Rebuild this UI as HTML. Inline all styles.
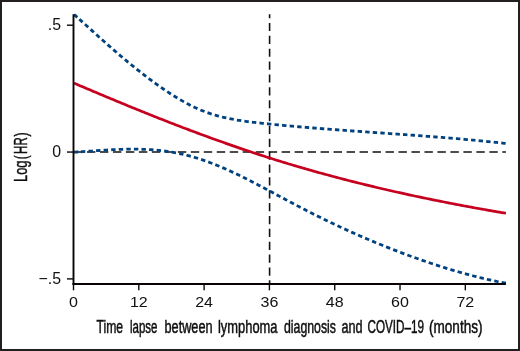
<!DOCTYPE html>
<html><head><meta charset="utf-8"><style>
html,body{margin:0;padding:0;background:#fff;}
svg{display:block;}
text{font-family:"Liberation Sans",sans-serif;}
.t{filter:grayscale(1);}
</style></head><body>
<svg width="520" height="351" viewBox="0 0 520 351">
<rect x="0" y="0" width="520" height="351" fill="#fff"/>
<rect x="1" y="1" width="518" height="349" fill="none" stroke="#231f20" stroke-width="2"/>
<g stroke="#141011" stroke-width="1.6" fill="none">
<line x1="74" y1="152.05" x2="505.9" y2="152.05" stroke-dasharray="8.4 4.58" />
<line x1="269.6" y1="14.2" x2="269.6" y2="284" stroke-dasharray="8.2 4.67" stroke-dashoffset="4.16" />
</g>
<g fill="none" stroke-linejoin="round">
<path d="M74.00,14.45 L75.10,15.42 L76.19,16.40 L77.29,17.38M79.31,19.19 L80.41,20.17 L81.50,21.15 L82.59,22.13M84.98,24.28 L86.07,25.26 L87.15,26.24 L88.24,27.22M90.63,29.38 L91.71,30.36 L92.80,31.34 L93.89,32.32M96.28,34.47 L97.37,35.46 L98.46,36.44 L99.55,37.42M101.93,39.56 L103.03,40.54 L104.12,41.51 L105.22,42.49M107.61,44.62 L108.71,45.59 L109.81,46.56 L110.92,47.53M113.33,49.64 L114.43,50.60 L115.54,51.56 L116.65,52.52M119.08,54.61 L120.20,55.56 L121.32,56.51 L122.44,57.45M124.89,59.51 L126.02,60.45 L127.14,61.39 L128.27,62.32M130.75,64.35 L131.89,65.28 L133.02,66.20 L134.17,67.13M136.66,69.12 L137.81,70.04 L138.96,70.95 L140.12,71.85M142.64,73.82 L143.80,74.71 L144.96,75.61 L146.13,76.50M148.68,78.42 L149.85,79.30 L151.03,80.18 L152.21,81.05M154.79,82.94 L155.98,83.80 L157.17,84.66 L158.36,85.51M160.97,87.35 L162.18,88.18 L163.38,89.02 L164.60,89.84M167.25,91.62 L168.47,92.43 L169.70,93.23 L170.93,94.03M173.62,95.74 L174.87,96.52 L176.12,97.28 L177.37,98.04M180.12,99.67 L181.39,100.40 L182.66,101.13 L183.94,101.85M186.74,103.37 L188.04,104.06 L189.34,104.74 L190.65,105.40M193.51,106.81 L194.84,107.44 L196.17,108.05 L197.50,108.66M200.43,109.92 L201.79,110.48 L203.15,111.03 L204.51,111.56M207.50,112.66 L208.89,113.15 L210.28,113.62 L211.67,114.07M214.72,115.01 L216.13,115.42 L217.54,115.82 L218.95,116.21M222.04,117.00 L223.46,117.34 L224.89,117.67 L226.32,117.99M229.44,118.65 L230.88,118.94 L232.32,119.21 L233.76,119.48M236.90,120.02 L238.35,120.26 L239.80,120.49 L241.25,120.71M244.40,121.16 L245.85,121.36 L247.31,121.55 L248.76,121.74M251.92,122.12 L253.38,122.30 L254.83,122.46 L256.29,122.63M259.46,122.97 L260.91,123.13 L262.37,123.28 L263.83,123.44M267.00,123.76 L268.46,123.91 L269.91,124.06 L271.37,124.21M274.54,124.52 L276.00,124.67 L277.46,124.81 L278.92,124.95M282.09,125.25 L283.55,125.39 L285.01,125.52 L286.47,125.66M289.64,125.95 L291.10,126.08 L292.56,126.21 L294.02,126.34M297.19,126.62 L298.65,126.75 L300.11,126.88 L301.57,127.00M304.74,127.27 L306.20,127.39 L307.66,127.51 L309.12,127.64M312.29,127.90 L313.76,128.01 L315.22,128.13 L316.68,128.25M319.85,128.50 L321.31,128.62 L322.78,128.73 L324.24,128.85M327.41,129.09 L328.87,129.20 L330.33,129.31 L331.80,129.42M334.97,129.66 L336.43,129.77 L337.89,129.88 L339.35,129.99M342.53,130.22 L343.99,130.33 L345.45,130.44 L346.91,130.54M350.09,130.77 L351.55,130.88 L353.01,130.98 L354.47,131.09M357.65,131.31 L359.11,131.42 L360.57,131.52 L362.04,131.62M365.21,131.85 L366.67,131.95 L368.13,132.05 L369.60,132.16M372.77,132.38 L374.23,132.48 L375.70,132.58 L377.16,132.69M380.33,132.91 L381.80,133.01 L383.26,133.11 L384.72,133.21M387.89,133.44 L389.36,133.54 L390.82,133.64 L392.28,133.75M395.46,133.97 L396.92,134.07 L398.38,134.18 L399.85,134.28M403.02,134.51 L404.48,134.61 L405.95,134.72 L407.41,134.82M410.58,135.05 L412.04,135.16 L413.51,135.26 L414.97,135.37M418.14,135.60 L419.61,135.71 L421.07,135.82 L422.53,135.93M425.71,136.17 L427.17,136.28 L428.63,136.39 L430.09,136.50M433.27,136.75 L434.73,136.86 L436.19,136.98 L437.65,137.09M440.83,137.35 L442.29,137.46 L443.75,137.58 L445.21,137.70M448.39,137.96 L449.85,138.08 L451.31,138.20 L452.77,138.33M455.94,138.60 L457.41,138.72 L458.87,138.85 L460.33,138.98M463.50,139.25 L464.96,139.38 L466.42,139.52 L467.88,139.65M471.06,139.94 L472.52,140.07 L473.98,140.21 L475.44,140.35M478.61,140.65 L480.07,140.79 L481.53,140.93 L482.99,141.08M486.16,141.39 L487.62,141.54 L489.08,141.69 L490.54,141.84M493.71,142.16 L495.17,142.32 L496.63,142.47 L498.09,142.63M501.26,142.97 L502.72,143.13 L504.17,143.29 L505.63,143.46" stroke="#00427f" stroke-width="2.8"/>
<path d="M74.00,152.18 L75.46,152.10 L76.93,152.01 L78.39,151.92M80.93,151.76 L82.39,151.66 L83.86,151.57 L85.32,151.47M88.49,151.25 L89.95,151.15 L91.42,151.04 L92.88,150.94M96.05,150.72 L97.51,150.62 L98.98,150.52 L100.44,150.42M103.61,150.21 L105.08,150.12 L106.54,150.03 L108.00,149.94M111.18,149.76 L112.64,149.68 L114.11,149.61 L115.57,149.54M118.75,149.40 L120.22,149.34 L121.68,149.29 L123.15,149.25M126.33,149.17 L127.80,149.14 L129.26,149.12 L130.73,149.11M133.91,149.10 L135.38,149.11 L136.85,149.13 L138.31,149.15M141.49,149.23 L142.96,149.28 L144.43,149.34 L145.89,149.40M149.07,149.58 L150.53,149.67 L152.00,149.77 L153.46,149.88M156.63,150.15 L158.09,150.29 L159.55,150.44 L161.01,150.60M164.17,150.99 L165.63,151.18 L167.08,151.38 L168.53,151.59M171.68,152.09 L173.12,152.33 L174.57,152.59 L176.01,152.86M179.14,153.48 L180.57,153.78 L182.00,154.09 L183.43,154.42M186.53,155.16 L187.96,155.52 L189.37,155.89 L190.79,156.28M193.86,157.15 L195.26,157.56 L196.66,157.99 L198.06,158.43M201.10,159.42 L202.49,159.88 L203.87,160.36 L205.26,160.85M208.26,161.93 L209.63,162.44 L211.00,162.96 L212.37,163.49M215.34,164.66 L216.70,165.21 L218.05,165.76 L219.41,166.33M222.34,167.57 L223.69,168.15 L225.03,168.74 L226.37,169.33M229.28,170.64 L230.62,171.25 L231.95,171.86 L233.28,172.48M236.16,173.84 L237.49,174.48 L238.81,175.11 L240.13,175.75M242.99,177.16 L244.30,177.81 L245.62,178.46 L246.93,179.12M249.77,180.56 L251.08,181.23 L252.38,181.90 L253.69,182.57M256.52,184.04 L257.82,184.72 L259.12,185.40 L260.42,186.08M263.24,187.57 L264.53,188.25 L265.83,188.94 L267.12,189.63M269.93,191.13 L271.23,191.82 L272.52,192.52 L273.81,193.21M276.62,194.72 L277.91,195.41 L279.20,196.11 L280.50,196.80M283.30,198.31 L284.60,199.00 L285.89,199.70 L287.18,200.39M289.99,201.89 L291.29,202.58 L292.58,203.27 L293.88,203.95M296.70,205.44 L298.00,206.12 L299.30,206.80 L300.60,207.48M303.42,208.95 L304.73,209.62 L306.03,210.29 L307.34,210.96M310.18,212.41 L311.49,213.07 L312.80,213.73 L314.11,214.39M316.96,215.81 L318.27,216.47 L319.58,217.12 L320.90,217.76M323.76,219.16 L325.08,219.81 L326.40,220.45 L327.72,221.08M330.59,222.46 L331.91,223.09 L333.24,223.72 L334.57,224.35M337.45,225.70 L338.78,226.32 L340.11,226.94 L341.44,227.56M344.33,228.89 L345.66,229.50 L347.00,230.11 L348.33,230.71M351.23,232.02 L352.57,232.62 L353.91,233.22 L355.25,233.81M358.16,235.09 L359.51,235.68 L360.85,236.27 L362.20,236.85M365.12,238.11 L366.47,238.69 L367.82,239.26 L369.17,239.83M372.10,241.07 L373.45,241.63 L374.80,242.20 L376.16,242.76M379.10,243.97 L380.46,244.52 L381.82,245.07 L383.18,245.62M386.12,246.81 L387.49,247.35 L388.85,247.89 L390.22,248.43M393.17,249.59 L394.54,250.12 L395.91,250.65 L397.28,251.17M400.24,252.30 L401.62,252.82 L402.99,253.34 L404.36,253.85M407.34,254.96 L408.71,255.47 L410.09,255.97 L411.47,256.48M414.45,257.56 L415.83,258.05 L417.21,258.54 L418.59,259.04M421.59,260.09 L422.97,260.57 L424.36,261.05 L425.74,261.53M428.75,262.55 L430.14,263.02 L431.53,263.48 L432.92,263.95M435.93,264.94 L437.32,265.39 L438.72,265.84 L440.11,266.29M443.13,267.25 L444.53,267.69 L445.93,268.12 L447.33,268.56M450.36,269.48 L451.77,269.90 L453.17,270.32 L454.58,270.74M457.62,271.62 L459.03,272.03 L460.44,272.43 L461.85,272.83M464.90,273.68 L466.31,274.07 L467.73,274.45 L469.14,274.83M472.20,275.64 L473.62,276.00 L475.04,276.37 L476.46,276.73M479.53,277.49 L480.95,277.84 L482.38,278.19 L483.80,278.53M486.88,279.25 L488.31,279.58 L489.74,279.90 L491.17,280.22M494.25,280.89 L495.69,281.20 L497.12,281.50 L498.56,281.80M501.65,282.42 L503.07,282.70 L504.48,282.97 L505.90,283.24" stroke="#00427f" stroke-width="2.8"/>
<path d="M74.0,83.12 L76.2,84.05 L78.3,84.98 L80.5,85.90 L82.7,86.83 L84.9,87.75 L87.0,88.67 L89.2,89.59 L91.4,90.51 L93.5,91.43 L95.7,92.34 L97.9,93.26 L100.0,94.17 L102.2,95.08 L104.4,95.99 L106.6,96.90 L108.7,97.81 L110.9,98.71 L113.1,99.62 L115.2,100.52 L117.4,101.42 L119.6,102.32 L121.7,103.21 L123.9,104.11 L126.1,105.00 L128.3,105.89 L130.4,106.78 L132.6,107.67 L134.8,108.55 L136.9,109.43 L139.1,110.31 L141.3,111.19 L143.5,112.07 L145.6,112.94 L147.8,113.81 L150.0,114.68 L152.1,115.55 L154.3,116.41 L156.5,117.27 L158.6,118.13 L160.8,118.99 L163.0,119.84 L165.2,120.69 L167.3,121.54 L169.5,122.39 L171.7,123.23 L173.8,124.07 L176.0,124.91 L178.2,125.75 L180.3,126.58 L182.5,127.41 L184.7,128.24 L186.9,129.06 L189.0,129.88 L191.2,130.70 L193.4,131.52 L195.5,132.33 L197.7,133.14 L199.9,133.95 L202.1,134.75 L204.2,135.55 L206.4,136.34 L208.6,137.14 L210.7,137.93 L212.9,138.71 L215.1,139.50 L217.2,140.28 L219.4,141.05 L221.6,141.83 L223.8,142.60 L225.9,143.36 L228.1,144.12 L230.3,144.88 L232.4,145.64 L234.6,146.39 L236.8,147.14 L238.9,147.88 L241.1,148.62 L243.3,149.36 L245.5,150.09 L247.6,150.82 L249.8,151.55 L252.0,152.27 L254.1,152.98 L256.3,153.70 L258.5,154.40 L260.7,155.11 L262.8,155.81 L265.0,156.51 L267.2,157.20 L269.3,157.89 L271.5,158.57 L273.7,159.25 L275.8,159.93 L278.0,160.61 L280.2,161.28 L282.4,161.94 L284.5,162.60 L286.7,163.26 L288.9,163.92 L291.0,164.57 L293.2,165.21 L295.4,165.86 L297.5,166.49 L299.7,167.13 L301.9,167.76 L304.1,168.39 L306.2,169.02 L308.4,169.64 L310.6,170.25 L312.7,170.87 L314.9,171.48 L317.1,172.09 L319.2,172.69 L321.4,173.29 L323.6,173.88 L325.8,174.48 L327.9,175.07 L330.1,175.65 L332.3,176.23 L334.4,176.81 L336.6,177.39 L338.8,177.96 L341.0,178.53 L343.1,179.10 L345.3,179.66 L347.5,180.22 L349.6,180.77 L351.8,181.32 L354.0,181.87 L356.1,182.42 L358.3,182.96 L360.5,183.50 L362.7,184.04 L364.8,184.57 L367.0,185.10 L369.2,185.63 L371.3,186.15 L373.5,186.67 L375.7,187.19 L377.8,187.70 L380.0,188.22 L382.2,188.72 L384.4,189.23 L386.5,189.73 L388.7,190.23 L390.9,190.73 L393.0,191.22 L395.2,191.71 L397.4,192.20 L399.6,192.68 L401.7,193.17 L403.9,193.65 L406.1,194.12 L408.2,194.60 L410.4,195.07 L412.6,195.53 L414.7,196.00 L416.9,196.46 L419.1,196.92 L421.3,197.38 L423.4,197.83 L425.6,198.28 L427.8,198.73 L429.9,199.18 L432.1,199.62 L434.3,200.07 L436.4,200.50 L438.6,200.94 L440.8,201.37 L443.0,201.80 L445.1,202.23 L447.3,202.66 L449.5,203.08 L451.6,203.50 L453.8,203.92 L456.0,204.34 L458.2,204.75 L460.3,205.16 L462.5,205.57 L464.7,205.98 L466.8,206.38 L469.0,206.78 L471.2,207.18 L473.3,207.58 L475.5,207.98 L477.7,208.37 L479.9,208.76 L482.0,209.15 L484.2,209.53 L486.4,209.92 L488.5,210.30 L490.7,210.68 L492.9,211.06 L495.0,211.43 L497.2,211.80 L499.4,212.18 L501.6,212.55 L503.7,212.91 L505.9,213.28" stroke="#c6011f" stroke-width="2.7"/>
</g>
<g stroke="#0c0809" stroke-width="1.4" fill="none">
<line x1="73.50" y1="283" x2="73.50" y2="290.3" /><line x1="138.80" y1="283" x2="138.80" y2="290.3" /><line x1="204.11" y1="283" x2="204.11" y2="290.3" /><line x1="269.41" y1="283" x2="269.41" y2="290.3" /><line x1="334.72" y1="283" x2="334.72" y2="290.3" /><line x1="400.02" y1="283" x2="400.02" y2="290.3" /><line x1="465.32" y1="283" x2="465.32" y2="290.3" /><line x1="67" y1="25.2" x2="73.5" y2="25.2" /><line x1="67" y1="152.05" x2="73.5" y2="152.05" /><line x1="67" y1="278.9" x2="73.5" y2="278.9" />
</g>
<g stroke="#080405" stroke-width="1.9" fill="none">
<line x1="73.5" y1="14.2" x2="73.5" y2="284.9" />
<line x1="72.6" y1="284" x2="505.9" y2="284" />
</g>
<g class="t" font-size="15.5" fill="#111">
<text transform="translate(73.50,306.6) scale(1.035,1)" text-anchor="middle">0</text><text transform="translate(138.80,306.6) scale(1.035,1)" text-anchor="middle">12</text><text transform="translate(204.11,306.6) scale(1.035,1)" text-anchor="middle">24</text><text transform="translate(269.41,306.6) scale(1.035,1)" text-anchor="middle">36</text><text transform="translate(334.72,306.6) scale(1.035,1)" text-anchor="middle">48</text><text transform="translate(400.02,306.6) scale(1.035,1)" text-anchor="middle">60</text><text transform="translate(465.32,306.6) scale(1.035,1)" text-anchor="middle">72</text>
<text font-size="15.9" transform="translate(61,30.00) scale(1,1)" text-anchor="end">.5</text><text font-size="15.9" transform="translate(61,156.85) scale(1,1)" text-anchor="end">0</text><text font-size="15.9" transform="translate(61,283.70) scale(1,1)" text-anchor="end">−.5</text>
</g>
<g class="t" font-size="18" fill="#120e0f" stroke="#120e0f" stroke-width="0.5"><text x="96.50" y="333" textLength="26.54" lengthAdjust="spacingAndGlyphs">Time</text><text x="130.00" y="333" textLength="27.52" lengthAdjust="spacingAndGlyphs">lapse</text><text x="164.50" y="333" textLength="48.03" lengthAdjust="spacingAndGlyphs">between</text><text x="218.00" y="333" textLength="59.51" lengthAdjust="spacingAndGlyphs">lymphoma</text><text x="284.00" y="333" textLength="52.01" lengthAdjust="spacingAndGlyphs">diagnosis</text><text x="341.50" y="333" textLength="21.11" lengthAdjust="spacingAndGlyphs">and</text><text x="367.50" y="333" textLength="56.50" lengthAdjust="spacingAndGlyphs">COVID–19</text><text x="429.00" y="333" textLength="53.54" lengthAdjust="spacingAndGlyphs">(months)</text></g>
<g class="t" font-size="18.8" fill="#120e0f" stroke="#120e0f" stroke-width="0.45"><text transform="translate(27.1,181.90) rotate(-90)" textLength="21.40" lengthAdjust="spacingAndGlyphs">Log</text><text transform="translate(27.1,159.30) rotate(-90)" textLength="3.78" lengthAdjust="spacingAndGlyphs">(</text><text transform="translate(27.1,153.90) rotate(-90)" textLength="16.60" lengthAdjust="spacingAndGlyphs">HR</text><text transform="translate(27.1,136.60) rotate(-90)" textLength="4.21" lengthAdjust="spacingAndGlyphs">)</text></g>
</svg>
</body></html>
